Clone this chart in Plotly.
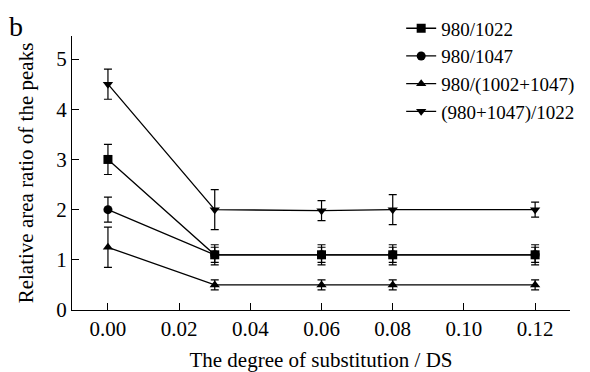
import plotly.graph_objects as go

ds = [0.00, 0.03, 0.06, 0.08, 0.12]
names = ["980/1022", "980/1047", "980/(1002+1047)", "(980+1047)/1022"]
r_980_1022 = [3.0, 1.1, 1.1, 1.1, 1.1]
e_980_1022 = [0.3, 0.15, 0.2, 0.2, 0.2]
r_980_1047 = [2.0, 1.1, 1.1, 1.1, 1.1]
e_980_1047 = [0.25, 0.2, 0.15, 0.15, 0.15]
r_980_1002_1047 = [1.25, 0.5, 0.5, 0.5, 0.5]
e_980_1002_1047 = [0.4, 0.1, 0.1, 0.1, 0.1]
r_980_1047_1022 = [4.5, 2.0, 1.98, 2.0, 2.0]
e_980_1047_1022 = [0.3, 0.4, 0.2, 0.3, 0.15]

series = [r_980_1022, r_980_1047, r_980_1002_1047, r_980_1047_1022]
errors = [e_980_1022, e_980_1047, e_980_1002_1047, e_980_1047_1022]
symbols = ["square", "circle", "triangle-up", "triangle-down"]

FONT = "Liberation Serif, Times New Roman, serif"

fig = go.Figure()
for name, ys, es, sym in zip(names, series, errors, symbols):
    fig.add_trace(go.Scatter(
        x=ds, y=ys, name=name, mode="lines+markers",
        line=dict(color="black", width=1.3),
        marker=dict(symbol=sym, size=9, color="black"),
        error_y=dict(type="data", array=es, visible=True, color="black", thickness=1.2, width=4),
    ))

axis_common = dict(showline=True, linecolor="black", linewidth=1.3, ticks="inside",
                   ticklen=7, tickwidth=1.3, tickcolor="black", showgrid=False, zeroline=False,
                   tickfont=dict(family=FONT, size=21, color="black"), mirror=False,
                   automargin=False)

# page body has a default 8px margin, so the figure is sized to fit the 590x372 window
fig.update_layout(
    width=582, height=364,
    margin=dict(l=64, r=20, t=28, b=62, autoexpand=False),
    paper_bgcolor="white", plot_bgcolor="white",
    font=dict(family=FONT, color="black"),
    xaxis=dict(range=[-0.0101, 0.1298], tickvals=[0, 0.02, 0.04, 0.06, 0.08, 0.10, 0.12],
               ticktext=["0.00", "0.02", "0.04", "0.06", "0.08", "0.10", "0.12"],
               title=dict(text="The degree of substitution / DS", font=dict(family=FONT, size=21), standoff=18),
               **axis_common),
    yaxis=dict(range=[0, 5.46], tickvals=[0, 1, 2, 3, 4, 5],
               title=dict(text="Relative area ratio of the peaks", font=dict(family=FONT, size=21), standoff=16),
               **axis_common),
    legend=dict(x=0.661, y=1.097, xanchor="left", yanchor="top", bgcolor="rgba(0,0,0,0)",
                font=dict(family=FONT, size=19, color="black"), itemwidth=30, tracegroupgap=0),
    showlegend=True,
)
fig.add_annotation(text="b", xref="paper", yref="paper", x=-0.13, y=1.036, xanchor="left", yanchor="middle",
                   showarrow=False, font=dict(family=FONT, size=28, color="black"))

fig.write_html("out.html")
